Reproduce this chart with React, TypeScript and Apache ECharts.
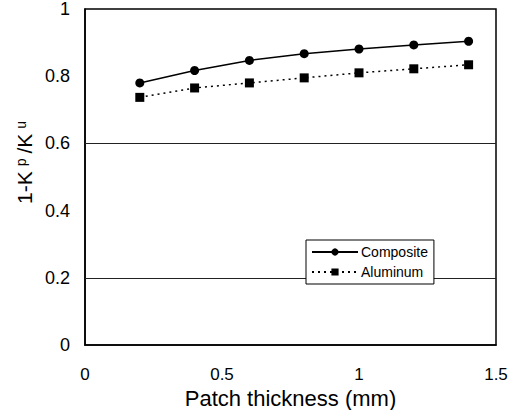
import React, { useEffect, useRef } from "react";
import * as echarts from "echarts";

const thickness = [0.2, 0.4, 0.6, 0.8, 1.0, 1.2, 1.4];
const composite = [0.78, 0.817, 0.847, 0.867, 0.881, 0.893, 0.904];
const aluminum = [0.737, 0.765, 0.78, 0.795, 0.81, 0.822, 0.834];
const gridValues = [0.2, 0.6];

const FONT = "Liberation Sans, Arial, sans-serif";

export default function App() {
  const ref = useRef<HTMLDivElement>(null);
  useEffect(() => {
    if (!ref.current) return;
    const chart = echarts.init(ref.current, null, { renderer: "svg" });
    chart.setOption({
      animation: false,
      backgroundColor: "#ffffff",
      grid: {
        left: 85,
        right: 25,
        top: 9,
        bottom: 65,
        show: true,
        borderColor: "#000",
        borderWidth: 1.5,
        containLabel: false,
        outerBoundsMode: "none",
      },
      xAxis: {
        type: "value",
        min: 0,
        max: 1.5,
        interval: 0.5,
        name: "Patch thickness (mm)",
        nameLocation: "middle",
        nameGap: 38,
        nameTextStyle: { fontFamily: FONT, fontSize: 22, color: "#000" },
        axisLine: { show: true, lineStyle: { color: "#000", width: 1.5 } },
        axisTick: { show: false },
        splitLine: { show: false },
        axisLabel: {
          fontFamily: FONT,
          fontSize: 17,
          color: "#000",
          margin: 21,
        },
      },
      yAxis: {
        type: "value",
        min: 0,
        max: 1,
        interval: 0.2,
        axisLine: { show: true, lineStyle: { color: "#000", width: 1.5 } },
        axisTick: { show: false },
        splitLine: { show: false },
        axisLabel: {
          fontFamily: FONT,
          fontSize: 18,
          color: "#000",
          margin: 15,
          formatter: (v: number) => (v === 0 ? "0" : v === 1 ? "1" : String(Math.round(v * 10) / 10)),
        },
      },
      legend: {
        orient: "vertical",
        left: 306,
        top: 240,
        backgroundColor: "#fff",
        borderColor: "#000",
        borderWidth: 1,
        borderRadius: 0,
        padding: [5, 6, 5, 5],
        itemGap: 6,
        itemWidth: 46,
        itemHeight: 9,
        textStyle: { fontFamily: FONT, fontSize: 14, color: "#000", padding: [0, 0, 0, -2] },
        data: ["Composite", "Aluminum"],
      },
      graphic: [
        {
          type: "text",
          x: 24,
          y: 160,
          rotation: Math.PI / 2,
          style: {
            text: "1-K{s|p}/K{s|u}",
            fontFamily: FONT,
            fontSize: 21,
            fill: "#000",
            align: "center",
            verticalAlign: "middle",
            rich: {
              s: { fontFamily: FONT, fontSize: 14, fill: "#000", padding: [0, 5, 6, 5] },
            },
          },
        },
      ],
      series: [
        {
          name: "Composite",
          type: "line",
          data: thickness.map((x, i) => [x, composite[i]]),
          symbol: "circle",
          symbolSize: 9,
          itemStyle: { color: "#000" },
          lineStyle: { color: "#000", width: 1.5, type: "solid" },
          markLine: {
            silent: true,
            symbol: "none",
            label: { show: false },
            lineStyle: { color: "#222", width: 1, type: "solid" },
            data: gridValues.map((v) => ({ yAxis: v })),
            z: 1,
          },
          z: 3,
        },
        {
          name: "Aluminum",
          type: "line",
          data: thickness.map((x, i) => [x, aluminum[i]]),
          symbol: "rect",
          symbolSize: 9,
          itemStyle: { color: "#000" },
          lineStyle: { color: "#000", width: 1.5, type: [2, 4] },
          z: 3,
        },
      ],
    });
    return () => chart.dispose();
  }, []);
  return <div ref={ref} style={{ width: 521, height: 410, position: "absolute", left: 0, top: 0 }} />;
}
